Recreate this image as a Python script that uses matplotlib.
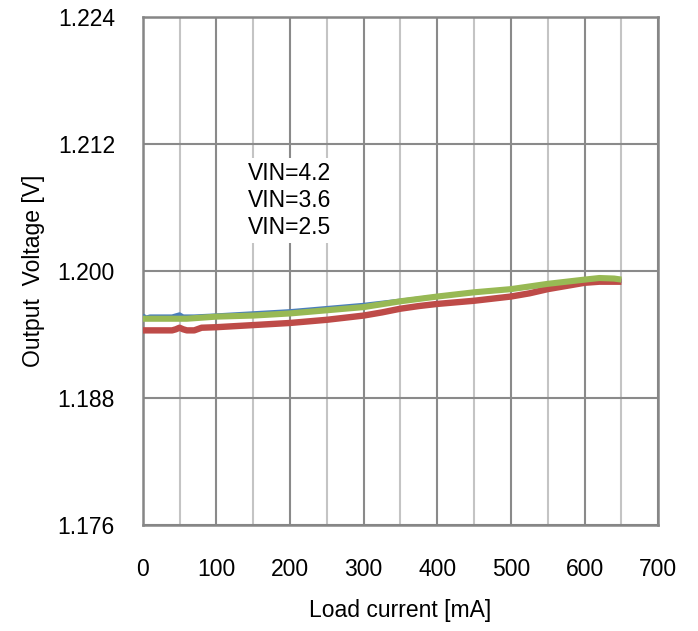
import matplotlib
matplotlib.use("Agg")
import matplotlib.pyplot as plt

plt.rcParams['font.family'] = ['Liberation Sans', 'DejaVu Sans']

# Load current (mA) and output voltage (V) for each input voltage
x_vin42 = [0, 5, 10, 20, 40, 50, 55, 70, 100, 150, 200, 250, 300, 350, 400, 450, 500, 550, 600, 620, 640, 650]
v_vin42 = [1.1958, 1.1956, 1.1957, 1.1957, 1.1957, 1.1959, 1.1957, 1.1957, 1.1958, 1.1960, 1.1962, 1.1965,
           1.1968, 1.1972, 1.1976, 1.1980, 1.1983, 1.1987, 1.1990, 1.1991, 1.1991, 1.1991]

x_vin36 = [0, 10, 20, 30, 40, 45, 50, 55, 60, 70, 80, 100, 150, 200, 250, 300, 325, 350, 375, 400, 450, 500,
           525, 550, 575, 600, 620, 640, 650]
v_vin36 = [1.1944, 1.1944, 1.1944, 1.1944, 1.1944, 1.1945, 1.19465, 1.1945, 1.1944, 1.1944, 1.19465, 1.1947,
           1.1949, 1.1951, 1.1954, 1.1958, 1.1961, 1.19645, 1.1967, 1.1969, 1.1972, 1.1976,
           1.1979, 1.1983, 1.1986, 1.1989, 1.1990, 1.1990, 1.1990]

x_vin25 = [0, 20, 40, 60, 80, 100, 150, 200, 250, 300, 350, 400, 450, 500, 550, 600, 620, 640, 650]
v_vin25 = [1.1955, 1.1955, 1.1955, 1.1955, 1.1956, 1.1957, 1.1958, 1.1960, 1.1963, 1.1966, 1.19715, 1.1976,
           1.1980, 1.1983, 1.1988, 1.1992, 1.19935, 1.1993, 1.1992]

labels = ["VIN=4.2", "VIN=3.6", "VIN=2.5"]
x_ticks = [0, 100, 200, 300, 400, 500, 600, 700]
y_ticks = [1.176, 1.188, 1.200, 1.212, 1.224]

fig = plt.figure(figsize=(6.98, 6.31), dpi=100)
ax = fig.add_axes([0.2044, 0.1680, 0.7387, 0.8046])

# grid
for xv in range(0, 701, 50):
    ax.axvline(xv, color='#8a8a8a' if xv % 100 == 0 else '#c4c4c4', lw=1.5, zorder=1)
for yv in y_ticks:
    ax.axhline(yv, color='#8a8a8a', lw=1.5, zorder=1)

ax.plot(x_vin42, v_vin42, color='#4A7EBB', lw=3.2, solid_capstyle='butt', zorder=3)
ax.plot(x_vin36, v_vin36, color='#BE4B48', lw=4.6, solid_capstyle='butt', zorder=4)
ax.plot(x_vin25, v_vin25, color='#98B954', lw=4.4, solid_capstyle='butt', zorder=5)

ax.text(143, 1.2067, "\n".join(labels), fontsize=16.5, ha='left', va='center',
        linespacing=1.22, zorder=6,
        bbox=dict(facecolor='white', edgecolor='none', pad=3))

ax.set_xlim(0, 700)
ax.set_ylim(1.176, 1.224)
ax.set_xticks(x_ticks)
ax.set_yticks(y_ticks)
ax.set_yticklabels([f"{v:.3f}" for v in y_ticks])
ax.tick_params(axis='both', length=0, labelsize=16.5)
ax.tick_params(axis='x', pad=24)
ax.tick_params(axis='y', pad=20)
for s in ax.spines.values():
    s.set_color('#868686')
    s.set_linewidth(1.8)

ax.set_xlabel("Load current [mA]", fontsize=16.5, labelpad=13)
ax.set_ylabel("Output  Voltage [V]", fontsize=16.5, labelpad=9)

fig.savefig("out.png", dpi=100)
